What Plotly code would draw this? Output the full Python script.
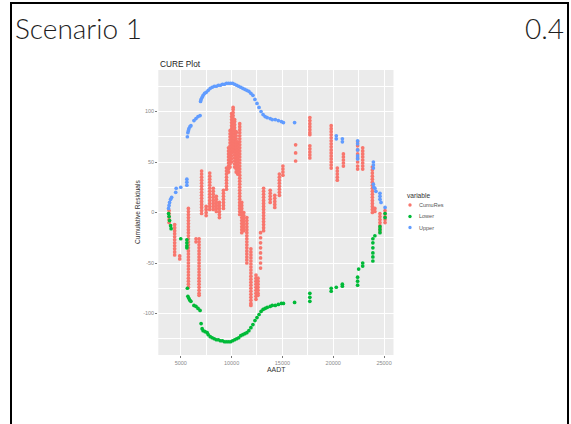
import plotly.graph_objects as go

W, H = 571, 424

# ---------------- data ----------------
x_tick_vals = [5000, 10000, 15000, 20000, 25000]
x_tick_text = ["5000", "10000", "15000", "20000", "25000"]
y_tick_vals = [-100, -50, 0, 50, 100]
y_tick_text = ["-100", "-50", "0", "50", "100"]

series_names = ["CumuRes", "Lower", "Upper"]
series_colors = ["#F8766D", "#00BA38", "#619CFF"]

# CumuRes: AADT of each vertical run and the cumulative-residual values in that run
cumres_run_aadt = [3850, 4400, 4900, 5750, 6500, 6800, 7050, 7500, 7850, 8200, 8500, 8800, 9200, 9500,
                   9700, 9850, 10000, 10150, 10300, 10450, 10600, 10800, 11000, 11200, 11500, 11900,
                   12400, 12600, 12850, 13150, 13800, 14250, 14700, 15050, 16300, 17700, 19800, 20400,
                   21000, 22400, 22900, 23850, 24100, 24600, 25100]
cumres_run_values = [
    [2, -1, -4, -7, -10],
    [-12, -15, -18, -21, -24, -27, -30, -33, -36, -39, -42],
    [-43, -46],
    [4, 1, -2, -5, -8, -11, -14, -17, -20, -23, -26, -29, -32, -35, -38, -41, -44, -47, -50, -53, -56, -59, -62, -65, -68, -71, -74],
    [-26, -29],
    [-26, -29, -32, -35, -38, -41, -44, -47, -50, -53, -56, -59, -62, -65, -68, -71, -74, -77, -80, -82],
    [41, 38, 35, 32, 29, 26, 23, 20, 17, 14, 11, 8, 5, 2, -1],
    [6, 3, 0, -3],
    [39, 36, 33, 30, 27, 24, 21, 18, 15, 12, 9, 6, 3],
    [24, 21, 18, 15, 12, 9, 6, 3],
    [16, 13, 10, 7, 4, 1],
    [10, 7, 4, 1, -2, -5],
    [22, 19, 16, 13, 10, 7, 4],
    [44, 41, 38, 35, 32, 29, 26, 23],
    [40, 43, 46, 49, 52, 55, 58, 61, 64],
    [45, 48, 51, 54, 57, 60, 63, 66, 69, 72, 75, 78, 81],
    [50, 53, 56, 59, 62, 65, 68, 71, 74, 77, 80, 83, 86, 89, 92, 95, 98],
    [60, 63, 66, 69, 72, 75, 78, 81, 84, 87, 90, 93, 96, 99, 102, 104],
    [45, 48, 51, 54, 57, 60, 63, 66, 69, 72, 75, 78, 81, 84, 87, 90, 92],
    [40, 43, 46, 49, 52, 55, 58, 61, 64, 67, 70, 73, 76, 79, 80],
    [38, 41, 44, 47, 50, 53, 56, 59, 62, 65, 68, 70],
    [88, 85, 82, 79, 76, 73, 70, 67, 64, 61, 58, 55, 52, 49, 46, 43, 40, 37, 34, 31, 28, 25, 22, 19, 16, 13, 10, 7, 4, 1, -2],
    [10, 7, 4, 1, -2, -5, -8, -11, -14, -17, -20],
    [0, -3, -6, -9, -12, -15, -18],
    [-5, -8, -11, -14, -17, -20, -23, -26, -29, -32, -35, -38, -41, -44, -47, -50],
    [-36, -39, -42, -45, -48, -51, -54, -57, -60, -63, -66, -69, -72, -75, -78, -81, -84, -87, -90, -92],
    [-62, -65, -68, -71, -74, -77, -80, -83, -86],
    [-65, -68, -71, -74, -77, -80, -82],
    [-55, -50, -45, -40, -35, -30, -25, -20],
    [-18, -15, -12, -9, -6, -3, 0, 3, 6, 9, 12, 15, 18, 21, 24],
    [22, 19, 16, 13, 10],
    [17, 14, 11, 8, 5],
    [17, 20, 23, 26, 29, 32, 35, 38],
    [37, 40, 43, 46],
    [51, 59, 67],
    [94, 91, 88, 85, 82, 79, 77, 66, 63, 60, 57, 54],
    [86, 83, 80, 77, 74, 71, 68, 65, 62, 59, 56, 53, 50, 47, 44],
    [44, 41, 38, 35, 32],
    [58, 55, 52, 49, 46],
    [70, 66, 62, 58, 54, 50, 46, 43],
    [64, 61, 58, 55, 52, 49, 46, 43],
    [45, 42, 39, 36, 33, 30, 27, 24, 21, 18, 15, 12, 9, 6, 3, 0],
    [4, 1],
    [-1, -4, -7, -10, -13, -16, -19],
    [2, -1, -4, -7, -10],
]

upper_aadt = [3800, 3850, 3900, 4000, 4100, 4500, 4550, 5000, 5600, 5600, 5600, 5650, 5700, 5750, 5800, 5900,
              6000, 6300, 6500, 6700, 6900, 6950, 7000, 7100, 7200, 7350, 7500, 7700, 7900, 8100, 8300, 8500,
              8700, 8900, 9100, 9300, 9500, 9700, 9900, 10100, 10300, 10500, 10700, 10900, 11100, 11300,
              11500, 11700, 11900, 12100, 12300, 12500, 12700, 12900, 13100, 13300, 13500, 13800, 14000,
              14300, 14600, 14900, 15100, 16200, 20300, 20300, 20900, 20900, 22400, 22400, 22400, 22400,
              22400, 23950, 23950, 23950, 23950, 24000, 24100, 24200, 24600, 24600, 24600, 24700, 25100]
upper_value = [4, 7, 10, 13, 15, 20, 24, 25, 27, 30, 33, 75, 79, 81, 83, 85,
               86, 91, 93, 95, 96, 110, 112, 114, 116, 118, 119, 121, 123, 124, 125, 125,
               126, 126, 127, 127, 128, 128, 128, 128, 127, 126, 125, 124, 123, 122,
               121, 120, 118, 116, 112, 108, 104, 100, 97, 95, 94, 93, 92,
               92, 91, 90, 89, 89, 76, 73, 73, 70, 71, 68, 62, 56,
               53, 50, 47, 44, 28, 25, 24, 21, 19, 16, 13, 10, 5]

lower_aadt = [3800, 3850, 3900, 4000, 4050, 5000, 5600, 5600, 5600, 5600, 5650, 5700, 5800, 5900, 6000,
              6300, 6500, 6700, 6900, 7000, 7100, 7200, 7400, 7600, 7700, 7900, 8100, 8300, 8500, 8700,
              8900, 9100, 9300, 9500, 9700, 9900, 10100, 10300, 10500, 10700, 10900, 11100, 11300, 11500,
              11700, 11900, 12100, 12300, 12500, 12700, 12900, 13100, 13300, 13500, 13800, 14000, 14300,
              14600, 14900, 15100, 16200, 17700, 17700, 17700, 19800, 19800, 20300, 20900, 20900, 22400,
              22400, 22400, 22500, 22900, 22900, 23900, 23900, 23900, 23900, 23900, 23900, 24100, 24600,
              24600, 24600, 25100, 25100]
lower_value = [-1, -4, -8, -13, -16, -26, -27, -30, -33, -35, -75, -83, -85, -87, -88,
               -92, -93, -95, -97, -110, -115, -117, -118, -119, -121, -123, -124, -125, -126, -126,
               -127, -127, -128, -128, -128, -128, -127, -126, -125, -124, -122, -121, -120, -119,
               -117, -114, -111, -107, -104, -101, -98, -96, -95, -94, -93, -92, -92,
               -91, -90, -90, -89, -80, -84, -88, -75, -78, -74, -71, -73, -72,
               -68, -64, -56, -53, -50, -48, -44, -40, -35, -30, -26, -23, -20,
               -17, -14, -5, -1]

# ---------------- build figure ----------------
cumres_x, cumres_y = [], []
for a, vals in zip(cumres_run_aadt, cumres_run_values):
    for v in vals:
        cumres_x.append(a)
        cumres_y.append(v)

def px_x(p):
    return p / W

def px_y(p):
    return 1 - p / H

MS = 3.7
fig = go.Figure()
for name, xs, ys, col in [
    ("CumuRes", cumres_x, cumres_y, series_colors[0]),
    ("Lower", lower_aadt, lower_value, series_colors[1]),
    ("Upper", upper_aadt, upper_value, series_colors[2]),
]:
    fig.add_trace(go.Scatter(x=xs, y=ys, mode="markers", name=name, showlegend=False,
                             marker=dict(size=MS, color=col, line=dict(width=0))))

FONT = "Liberation Sans, Arial, sans-serif"
axis_common = dict(
    showgrid=True, gridcolor="white", gridwidth=1, zeroline=False, showline=False,
    ticks="outside", ticklen=2, tickwidth=0.6, tickcolor="#777",
    tickfont=dict(family=FONT, size=5.5, color="#8a8a8a"),
)
fig.update_layout(
    width=W, height=H, autosize=False,
    margin=dict(l=0, r=0, t=0, b=0),
    paper_bgcolor="white", plot_bgcolor="#EBEBEB",
    xaxis=dict(domain=[px_x(158.3), px_x(393.5)], range=[2790, 25930],
               tickmode="array", tickvals=x_tick_vals, ticktext=x_tick_text,
               minor=dict(dtick=2500, tick0=0, showgrid=True, gridcolor="white", gridwidth=0.5, ticks=""),
               **axis_common),
    yaxis=dict(domain=[px_y(355), px_y(70)], range=[-141.1, 141.1],
               tickmode="array", tickvals=y_tick_vals, ticktext=y_tick_text,
               minor=dict(dtick=25, tick0=0, showgrid=True, gridcolor="white", gridwidth=0.5, ticks=""),
               **axis_common),
)

ann = []
# slide title and value
slide_font = dict(family="Lato, Open Sans, sans-serif", size=28, color="#1e1e1e", weight=300)
ann.append(dict(text="Scenario 1", x=px_x(13), y=px_y(28), xref="paper", yref="paper",
                xanchor="left", yanchor="middle", showarrow=False, font=slide_font))
ann.append(dict(text="0.4", x=px_x(566), y=px_y(28), xref="paper", yref="paper",
                xanchor="right", yanchor="middle", showarrow=False, font=slide_font))
# ggplot titles
ann.append(dict(text="CURE Plot", x=px_x(158), y=px_y(63.5), xref="paper", yref="paper",
                xanchor="left", yanchor="middle", showarrow=False,
                font=dict(family=FONT, size=8.3, color="#222")))
ann.append(dict(text="Cumulative Residuals", x=px_x(137.5), y=px_y(212.5), xref="paper", yref="paper",
                xanchor="center", yanchor="middle", textangle=-90, showarrow=False,
                font=dict(family=FONT, size=6.6, color="#333")))
ann.append(dict(text="AADT", x=px_x(276), y=px_y(369), xref="paper", yref="paper",
                xanchor="center", yanchor="middle", showarrow=False,
                font=dict(family=FONT, size=6.9, color="#333")))
# legend
ann.append(dict(text="variable", x=px_x(404.5), y=px_y(195), xref="paper", yref="paper",
                xanchor="left", yanchor="middle", showarrow=False,
                font=dict(family=FONT, size=6.6, color="#333")))
shapes = []
legend_rows = [205, 216.5, 227.5]
for name, col, ry in zip(series_names, series_colors, legend_rows):
    ann.append(dict(text=name, x=px_x(416.5), y=px_y(ry), xref="paper", yref="paper",
                    xanchor="left", yanchor="middle", showarrow=False,
                    font=dict(family=FONT, size=5.5, color="#555")))
    shapes.append(dict(type="circle", xref="paper", yref="paper",
                       x0=px_x(410 - 1.7), x1=px_x(410 + 1.7), y0=px_y(ry + 1.7), y1=px_y(ry - 1.7),
                       fillcolor=col, line=dict(width=0)))

# slide frame
frame = dict(color="black", width=2)
shapes.append(dict(type="line", xref="paper", yref="paper", x0=px_x(10), x1=px_x(569), y0=px_y(3), y1=px_y(3), line=frame))
shapes.append(dict(type="line", xref="paper", yref="paper", x0=px_x(11), x1=px_x(11), y0=px_y(2), y1=px_y(424), line=frame))
shapes.append(dict(type="line", xref="paper", yref="paper", x0=px_x(568), x1=px_x(568), y0=px_y(2), y1=px_y(424), line=frame))

fig.update_layout(annotations=ann, shapes=shapes)
fig.write_html("out.html")
